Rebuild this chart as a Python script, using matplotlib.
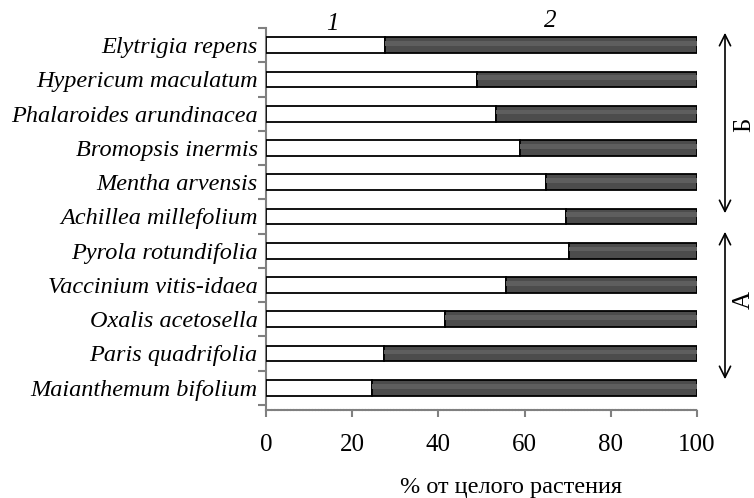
import matplotlib
matplotlib.use("Agg")
import matplotlib.pyplot as plt
import numpy as np

species = ["Maianthemum bifolium", "Paris quadrifolia", "Oxalis acetosella",
           "Vaccinium vitis-idaea", "Pyrola rotundifolia", "Achillea millefolium",
           "Mentha arvensis", "Bromopsis inermis", "Phalaroides arundinacea",
           "Hypericum maculatum", "Elytrigia repens"]
part1 = [24.5, 27.3, 41.6, 55.7, 70.4, 69.7, 65.0, 59.0, 53.3, 49.0, 27.5]
part2 = [100 - v for v in part1]
xticks = [0, 20, 40, 60, 80, 100]

plt.rcParams['font.family'] = ['Liberation Serif', 'DejaVu Serif']

fig = plt.figure(figsize=(7.54, 4.98), dpi=100)
ax = fig.add_axes([266/754, 88/498, 431/754, 382/498])

y = np.arange(len(species))
h = 0.46
ax.barh(y, part1, height=h, color="white", edgecolor="black", linewidth=1.3, zorder=3)
ax.barh(y, part2, left=part1, height=h, color="#4c4c4c", edgecolor="black", linewidth=1.3, zorder=3)
# subtle cylinder highlight
ax.barh(y + h*0.1, part2, left=part1, height=h*0.3, color="#5e5e5e", linewidth=0, zorder=4)

ax.set_xlim(0, 100)
ax.set_ylim(-0.65, 10.5)
ax.set_yticks(y)
ax.set_yticklabels(species, fontsize=17.5, style="italic")
ax.set_yticks(np.arange(-0.5, 10.6, 1), minor=True)
ax.tick_params(axis="y", which="major", length=0, pad=6)
ax.tick_params(axis="y", which="minor", length=6, color="gray", width=1.5)
ax.set_xticks(xticks)
ax.set_xticklabels([str(v) for v in xticks], fontsize=18)
ax.tick_params(axis="x", length=5, color="gray", width=1.5, pad=12)

for s in ["top", "right"]:
    ax.spines[s].set_visible(False)
ax.spines["left"].set_color("gray")
ax.spines["left"].set_linewidth(1.5)
ax.spines["bottom"].set_color("gray")
ax.spines["bottom"].set_linewidth(1.5)
ax.spines["bottom"].set_linestyle((0, (1, 0.5)))

# x-axis title
fig.text(511/754, 1 - 487/498, "% от целого растения", fontsize=17.5, ha="center", va="center")

# series labels
fig.text(332/754, 1 - 24/498, "1", fontsize=18, style="italic", ha="center", va="center")
fig.text(550/754, 1 - 21/498, "2", fontsize=18, style="italic", ha="center", va="center")

# group arrows
fig.patches.append(matplotlib.patches.FancyArrowPatch(
    (725/754, 1 - 30/498), (725/754, 1 - 216/498), transform=fig.transFigure,
    arrowstyle="<->", mutation_scale=20, color="black", lw=1.2))
fig.patches.append(matplotlib.patches.FancyArrowPatch(
    (725/754, 1 - 229/498), (725/754, 1 - 382/498), transform=fig.transFigure,
    arrowstyle="<->", mutation_scale=20, color="black", lw=1.2))
fig.text(744/754, 1 - 125/498, "Б", fontsize=18, rotation=90, ha="center", va="center")
fig.text(744/754, 1 - 300/498, "А", fontsize=18, rotation=90, ha="center", va="center")

fig.savefig("out.png", dpi=100)
